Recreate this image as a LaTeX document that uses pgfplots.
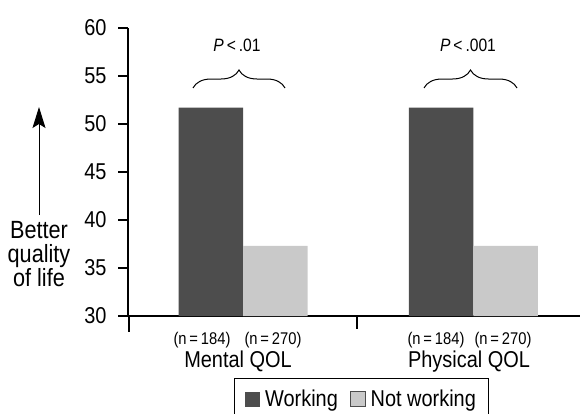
\documentclass[border=0pt]{standalone}
\usepackage{fontspec}
\setmainfont{Liberation Sans}[FakeStretch=0.87]
\usepackage{pgfplots}
\pgfplotsset{compat=1.18}
\usetikzlibrary{arrows.meta,decorations.pathreplacing}
\definecolor{darkbar}{HTML}{4D4D4D}
\definecolor{lightbar}{HTML}{C9C9C9}
\begin{document}
\begin{tikzpicture}
\begin{axis}[
  at={(128bp,-316bp)}, anchor=south west,
  scale only axis, width=452bp, height=288bp,
  xmin=-0.5, xmax=1.463, ymin=30, ymax=60,
  axis x line*=bottom, axis y line*=left,
  axis line style={line width=2.8bp, -},
  ytick={30,35,...,60},
  xtick=\empty,
  tick align=outside,
  major tick length=10bp,
  tick style={line width=2.8bp, black},
  /pgf/number format/assume math mode=true,
  yticklabel style={font=\fontsize{23}{26}\selectfont, xshift=-8bp},
  clip=false,
  legend style={at={(0.5166,-0.2153)}, anchor=north, legend columns=2,
    draw=black, line width=1bp, inner xsep=11bp, inner ysep=9bp,
    font=\fontsize{23}{26}\selectfont,
    /tikz/every odd column/.style={column sep=3bp},
    /tikz/every even column/.style={column sep=10bp}},
]
\addplot[ybar, bar width=0.28, bar shift=-0.14, fill=darkbar, draw=none,
  legend image code/.code={\fill[darkbar] (0bp,-8bp) rectangle (15bp,7bp);}]
  coordinates {(0,51.7) (1,51.7)};
\addlegendentry{Working}
\addplot[ybar, bar width=0.28, bar shift=0.14, fill=lightbar, draw=none,
  legend image code/.code={\filldraw[fill=lightbar, draw=black!70, line width=0.8bp] (0bp,-8bp) rectangle (15bp,7bp);}]
  coordinates {(0,37.3) (1,37.3)};
\addlegendentry{Not working}
\end{axis}
% x-axis ticks
\draw[line width=2.8bp] (129bp,-316bp) -- (129bp,-332bp);
\draw[line width=2.8bp] (357bp,-316bp) -- (357bp,-329bp);
% braces
\draw[line width=1bp, decorate, decoration={brace, amplitude=18bp}] (193bp,-88bp) -- (285bp,-88bp);
\draw[line width=1bp, decorate, decoration={brace, amplitude=18bp}] (424bp,-88bp) -- (517bp,-88bp);
\node[font=\fontsize{18}{20}\selectfont] at (237bp,-45bp) {\textit{P}\,<\,.01};
\node[font=\fontsize{18}{20}\selectfont] at (468bp,-45bp) {\textit{P}\,<\,.001};
% group labels
\node[anchor=base, font=\fontsize{17}{19}\selectfont] at (202bp,-344bp) {(n\,=\,184)};
\node[anchor=base, font=\fontsize{17}{19}\selectfont] at (273bp,-344bp) {(n\,=\,270)};
\node[anchor=base, font=\fontsize{17}{19}\selectfont] at (436bp,-344bp) {(n\,=\,184)};
\node[anchor=base, font=\fontsize{17}{19}\selectfont] at (503bp,-344bp) {(n\,=\,270)};
\node[anchor=base, font=\fontsize{23}{26}\selectfont] at (238bp,-367bp) {Mental QOL};
\node[anchor=base, font=\fontsize{23}{26}\selectfont] at (469bp,-367bp) {Physical QOL};
% arrow and side text
\draw[line width=1bp, -{Stealth[length=21bp, width=13bp, inset=4bp]}] (39bp,-215bp) -- (39bp,-107bp);
\node[align=center, font=\fontsize{25}{24}\selectfont] at (39bp,-254bp) {Better\\quality\\of life};
\pgfresetboundingbox
\useasboundingbox (0bp,0bp) rectangle (580bp,-414bp);
\end{tikzpicture}
\end{document}
